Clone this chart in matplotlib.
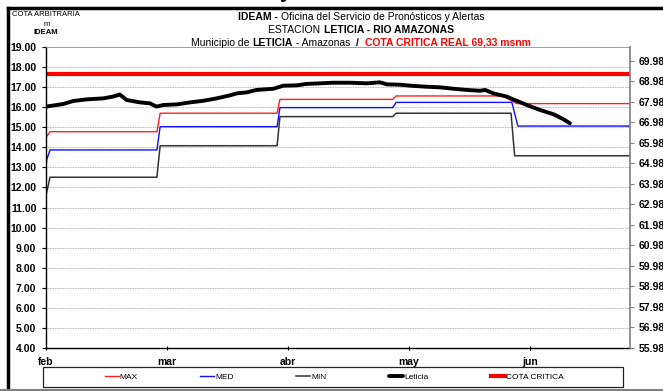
import matplotlib
matplotlib.use("Agg")
import matplotlib.pyplot as plt
from matplotlib.lines import Line2D
from matplotlib.patches import Rectangle

plt.rcParams['font.family'] = ['Liberation Sans Narrow', 'Liberation Sans', 'DejaVu Sans']

# dias contados desde el 1 de febrero
meses = ["feb", "mar", "abr", "may", "jun"]
meses_dia = [0, 30, 60, 90, 120]

max_dia = [0, 1, 27.5, 28.3, 57.3, 58, 86, 86.8, 113.3, 116.7, 145]
max_nivel = [14.50, 14.78, 14.78, 15.70, 15.70, 16.39, 16.39, 16.56, 16.56, 16.18, 16.18]

med_dia = [0, 0.2, 1, 27.5, 28.3, 57.3, 58, 86, 86.8, 115.5, 117, 145]
med_nivel = [12.98, 13.40, 13.87, 13.87, 15.03, 15.03, 15.98, 15.98, 16.24, 16.24, 15.06, 15.06]

min_dia = [0, 1, 27.5, 28.3, 57.3, 58, 86, 86.8, 115.3, 116.2, 145]
min_nivel = [11.60, 12.51, 12.51, 14.08, 14.08, 15.53, 15.53, 15.70, 15.70, 13.58, 13.58]

leticia_dia = [0, 4.3, 6.8, 10.1, 14.2, 16.6, 18.3, 20, 23.3, 25.8, 27.4, 29.1, 32.4,
               35.7, 39, 42.3, 45.6, 47.3, 49.8, 52.2, 56.4, 58.8, 62.2, 64.6, 68,
               71.2, 75.4, 79.5, 82.8, 84.5, 87.8, 91.1, 94.4, 97.7, 101, 104.3,
               107.6, 108.9, 110.9, 114.2, 116.7, 119.2, 122.5, 125.8, 128.3, 129.9]
leticia_nivel = [16.03, 16.16, 16.31, 16.39, 16.44, 16.53, 16.63, 16.36, 16.24, 16.19,
                 16.03, 16.11, 16.14, 16.24, 16.32, 16.44, 16.59, 16.69, 16.74, 16.86,
                 16.92, 17.07, 17.09, 17.16, 17.19, 17.22, 17.22, 17.19, 17.24, 17.14,
                 17.12, 17.06, 17.02, 16.99, 16.92, 16.86, 16.82, 16.86, 16.69, 16.53,
                 16.32, 16.11, 15.86, 15.65, 15.40, 15.20]

cota_critica = 17.65          # 69,33 msnm

W, H = 663, 391
fig = plt.figure(figsize=(W / 100, H / 100), dpi=100)
ax = fig.add_axes([46 / W, 1 - 348 / H, (630 - 46) / W, (348 - 47) / H])

ax.plot(max_dia, max_nivel, color="#ff2020", lw=1.0, label="MAX")
ax.plot(med_dia, med_nivel, color="#1010ff", lw=1.0, label="MED")
ax.plot(min_dia, min_nivel, color="#333333", lw=1.1, label="MIN")
ax.plot(leticia_dia, leticia_nivel, color="black", lw=2.8, label="Leticia",
        solid_capstyle="round")
ax.plot([0, 145], [cota_critica, cota_critica], color="#ff0000", lw=3.0,
        label="COTA CRITICA")

ax.set_xlim(0, 144.8)
ax.set_ylim(4, 19)
ax.set_yticks(range(4, 20))
ax.set_yticklabels([f"{v:.2f}" for v in range(4, 20)], fontweight="bold", fontsize=7.5)
ax.set_xticks(meses_dia)
ax.set_xticklabels(meses, fontweight="bold", fontsize=7.5)
ax.tick_params(axis="y", direction="out", length=3, width=0.8, pad=4)
ax.tick_params(axis="x", direction="inout", length=3, width=0.8, pad=5)
ax.grid(axis="y", linestyle=(0, (1, 1)), color="#9a9a9a", lw=0.6)
ax.set_axisbelow(True)

for lado in ["left", "bottom"]:
    ax.spines[lado].set_color("black")
    ax.spines[lado].set_linewidth(1.0)
ax.spines["top"].set_color("#999999")
ax.spines["top"].set_linewidth(0.6)
ax.spines["right"].set_visible(False)

# eje derecho en msnm
ax2 = ax.twinx()
ax2.set_ylim(55.98, 70.66)
der = [55.98 + i for i in range(15)]
ax2.set_yticks(der)
ax2.set_yticklabels([f"{v:.2f}" for v in der], fontweight="bold", fontsize=7.5)
ax2.tick_params(axis="y", direction="out", length=3, width=0.8, pad=3, color="#808080")
ax2.spines["right"].set_color("#808080")
ax2.spines["right"].set_linewidth(1.2)
for lado in ["left", "top", "bottom"]:
    ax2.spines[lado].set_visible(False)

# leyenda
ax.legend(loc="center", bbox_to_anchor=(334 / W, 1 - 377 / H),
          bbox_transform=fig.transFigure, ncol=5, frameon=False, fontsize=6,
          handlelength=1.7, handletextpad=0.1, columnspacing=7.5)
fig.patches.append(Rectangle((43 / W, 1 - 387 / H), (623 - 43) / W, (387 - 367) / H,
                             transform=fig.transFigure, fill=False,
                             ec="#222222", lw=0.9))

# marco exterior
fig.add_artist(Line2D([8 / W, 8 / W], [0, 1 - 8 / H], color="black", lw=2.5))
fig.add_artist(Line2D([8 / W, 1], [1 - 8 / H, 1 - 8 / H], color="black", lw=2.5))
fig.add_artist(Line2D([0, 1], [0.8 / H, 0.8 / H], color="#808080", lw=1.5))

fig.text(286 / W, 1 + 2.5 / H, "y", fontsize=15, fontweight="bold", ha="center",
         va="baseline")

# textos de la esquina superior izquierda
fig.text(12 / W, 1 - 15 / H, "COTA ARBITRARIA", fontsize=5.5, va="center")
fig.text(47 / W, 1 - 24 / H, "m", fontsize=5.5, va="center", ha="center")
fig.text(45.5 / W, 1 - 33 / H, "IDEAM", fontsize=5.5, va="center", ha="center",
         fontweight="bold")


def linea_mixta(y_px, partes, cx_px=361, size=7.5):
    renderer = fig.canvas.get_renderer()
    textos = []
    for texto, peso, color in partes:
        textos.append(fig.text(0, 1 - y_px / H, texto, fontsize=size, fontweight=peso,
                               color=color, va="center", ha="left"))
    anchos = [t.get_window_extent(renderer).width for t in textos]
    x = cx_px - sum(anchos) / 2
    for t, a in zip(textos, anchos):
        t.set_x(x / W)
        x += a


linea_mixta(17, [("IDEAM - ", "bold", "black"),
                 ("Oficina del Servicio de Pronósticos y Alertas", "normal", "black")])
linea_mixta(30, [("ESTACION ", "normal", "black"),
                 ("LETICIA - RIO AMAZONAS", "bold", "black")])
linea_mixta(42.5, [("Municipio de ", "normal", "black"), ("LETICIA", "bold", "black"),
                   (" - Amazonas  ", "normal", "black"), ("/  ", "bold", "black"),
                   ("COTA CRITICA REAL 69,33 msnm", "bold", "#ff0000")])

fig.savefig("out.png", dpi=100)
